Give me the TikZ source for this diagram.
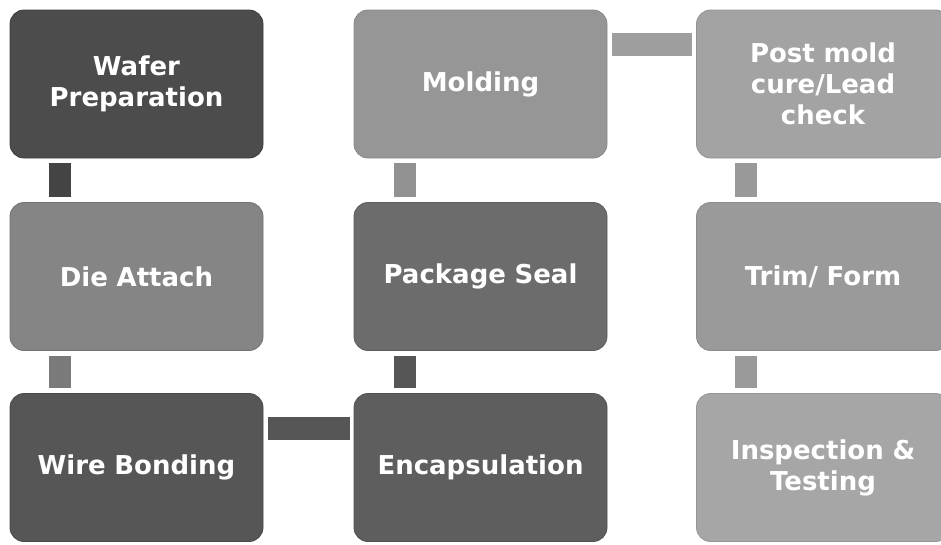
\documentclass[tikz,border=0pt]{standalone}
\usepackage{fontspec}
\setmainfont{DejaVu Sans}
\usetikzlibrary{calc}
\definecolor{cWafer}{HTML}{4C4C4C}
\definecolor{cDie}{HTML}{858585}
\definecolor{cWire}{HTML}{565656}
\definecolor{cEnc}{HTML}{5E5E5E}
\definecolor{cPkg}{HTML}{6C6C6C}
\definecolor{cMold}{HTML}{969696}
\definecolor{cPost}{HTML}{A3A3A3}
\definecolor{cTrim}{HTML}{9A9A9A}
\definecolor{cInsp}{HTML}{A6A6A6}
\tikzset{
  stepbox/.style={rounded corners=14pt, minimum width=253pt, minimum height=148pt,
    inner sep=0pt, text=white, align=center, text width=240pt,
    font=\fontsize{26}{31}\selectfont\bfseries, line width=0.8pt},
  vbar/.style={line width=22pt, shorten <=5pt, shorten >=5pt},
  hbar/.style={line width=23pt, shorten <=5pt, shorten >=4pt},
}
\begin{document}
\begin{tikzpicture}[x=1pt,y=-1pt]
\useasboundingbox (0,0) rectangle (941,544);
\clip (0,0) rectangle (941,544);
\node[stepbox, fill=cWafer, draw=cWafer!80!black] (wafer) at (136.5,84) {Wafer\\Preparation};
\node[stepbox, fill=cDie, draw=cDie!85!black] (die) at (136.5,276.5) {Die Attach};
\node[stepbox, fill=cWire, draw=cWire!85!black] (wire) at (136.5,467.5) {Wire Bonding};
\node[stepbox, fill=cEnc, draw=cEnc!85!black] (enc) at (480.5,467.5) {Encapsulation};
\node[stepbox, fill=cPkg, draw=cPkg!85!black] (pkg) at (480.5,276.5) {Package Seal};
\node[stepbox, fill=cMold, draw=cMold!90!black] (mold) at (480.5,84) {Molding};
\node[stepbox, fill=cPost, draw=cPost!90!black] (post) at (823,84) {Post mold\\cure/Lead\\check};
\node[stepbox, fill=cTrim, draw=cTrim!90!black] (trim) at (823,276.5) {Trim/ Form};
\node[stepbox, fill=cInsp, draw=cInsp!90!black] (insp) at (823,467.5) {Inspection \&\\Testing};

\draw[vbar, draw=cWafer!90!black] ([xshift=50pt]wafer.south west) -- ([xshift=50pt]die.north west);
\draw[vbar, draw=cDie!92!black] ([xshift=50pt]die.south west) -- ([xshift=50pt]wire.north west);
\draw[hbar, draw=cWire] ([yshift=-35.5pt]wire.north east) -- ([yshift=-35.5pt]enc.north west);
\draw[vbar, draw=cEnc!92!black] ([xshift=51pt]enc.north west) -- ([xshift=51pt]pkg.south west);
\draw[vbar, draw=cPkg!75!white] ([xshift=51pt]pkg.north west) -- ([xshift=51pt]mold.south west);
\draw[hbar, draw=cMold!92!white] ([yshift=-35pt]mold.north east) -- ([yshift=-35pt]post.north west);
\draw[vbar, draw=cPost!94!black] ([xshift=49.5pt]post.south west) -- ([xshift=49.5pt]trim.north west);
\draw[vbar, draw=cTrim] ([xshift=49.5pt]trim.south west) -- ([xshift=49.5pt]insp.north west);
\end{tikzpicture}
\end{document}
